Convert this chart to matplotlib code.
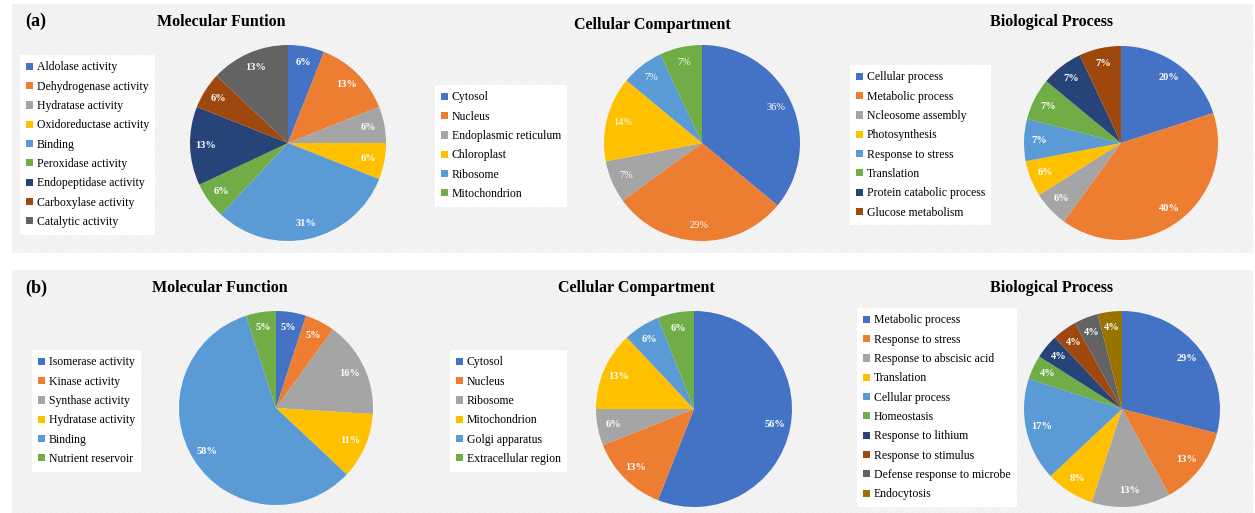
import matplotlib.pyplot as plt
from matplotlib.patches import Rectangle

plt.rcParams['font.family'] = ['Liberation Serif', 'DejaVu Serif']
plt.rcParams['hatch.linewidth'] = 0.6

# colours of the Office palette, in slice order
office = ['#4472C4', '#ED7D31', '#A5A5A5', '#FFC000', '#5B9BD5',
          '#70AD47', '#264478', '#9E480E', '#636363', '#997300']

# (a) molecular function
a_mf_labels = ['Aldolase activity', 'Dehydrogenase activity', 'Hydratase activity',
               'Oxidoreductase activity', 'Binding', 'Peroxidase activity',
               'Endopeptidase activity', 'Carboxylase activity', 'Catalytic activity']
a_mf_values = [6, 13, 6, 6, 31, 6, 13, 6, 13]

# (a) cellular compartment
a_cc_labels = ['Cytosol', 'Nucleus', 'Endoplasmic reticulum', 'Chloroplast',
               'Ribosome', 'Mitochondrion']
a_cc_values = [36, 29, 7, 14, 7, 7]

# (a) biological process
a_bp_labels = ['Cellular process', 'Metabolic process', 'Ncleosome assembly',
               'Photosynthesis', 'Response to stress', 'Translation',
               'Protein catabolic process', 'Glucose metabolism']
a_bp_values = [20, 40, 6, 6, 7, 7, 7, 7]

# (b) molecular function
b_mf_labels = ['Isomerase activity', 'Kinase activity', 'Synthase activity',
               'Hydratase activity', 'Binding', 'Nutrient reservoir']
b_mf_values = [5, 5, 16, 11, 58, 5]

# (b) cellular compartment
b_cc_labels = ['Cytosol', 'Nucleus', 'Ribosome', 'Mitochondrion',
               'Golgi apparatus', 'Extracellular region']
b_cc_values = [56, 13, 6, 13, 6, 6]

# (b) biological process
b_bp_labels = ['Metabolic process', 'Response to stress', 'Response to abscisic acid',
               'Translation', 'Cellular process', 'Homeostasis', 'Response to lithium',
               'Response to stimulus', 'Defense response to microbe', 'Endocytosis']
b_bp_values = [29, 13, 13, 8, 17, 4, 4, 4, 4, 4]

W, H = 1255, 513
fig = plt.figure(figsize=(W / 100, H / 100), dpi=100)
fig.patch.set_facecolor('white')


def px(x, y):
    return x / W, 1 - y / H


# grey panel behind each row
for y0, y1 in [(4, 253), (270, 513)]:
    fig.patches.append(Rectangle(px(12, y1), (W - 14) / W, (y1 - y0) / H,
                                 transform=fig.transFigure, facecolor='#f1f1f1',
                                 edgecolor='#f8f8f8', hatch='//////', linewidth=0,
                                 zorder=-1))


def pie_panel(values, labels, title, title_xy, centre, radius, legend_xy, bold=True):
    cx, cy = centre
    ax = fig.add_axes([(cx - radius) / W, 1 - (cy + radius) / H,
                       2 * radius / W, 2 * radius / H])
    wedges, _, autotexts = ax.pie(values, colors=office[:len(values)], startangle=90,
                                  counterclock=False, radius=1,
                                  autopct=lambda p: f'{p:.0f}%', pctdistance=0.84,
                                  wedgeprops=dict(linewidth=0))
    for t in autotexts:
        t.set_color('white')
        t.set_fontsize(7.5)
        t.set_fontweight('bold' if bold else 'normal')
    ax.set_xlim(-1, 1)
    ax.set_ylim(-1, 1)
    ax.set_aspect('equal')
    ax.axis('off')

    fig.text(*px(*title_xy), title, ha='center', va='center',
             fontsize=11.5, fontweight='bold')

    leg = fig.legend(wedges, labels, loc='upper left', bbox_to_anchor=px(*legend_xy),
                     fontsize=8.5, frameon=True, fancybox=False, framealpha=1,
                     facecolor='white', edgecolor='white', handlelength=0.55,
                     handleheight=0.55, handletextpad=0.3, labelspacing=0.62,
                     borderpad=0.55, borderaxespad=0)
    leg.get_frame().set_linewidth(0)


fig.text(*px(25, 21), '(a)', ha='left', va='center', fontsize=13, fontweight='bold')
fig.text(*px(25, 288), '(b)', ha='left', va='center', fontsize=13, fontweight='bold')

pie_panel(a_mf_values, a_mf_labels, 'Molecular Funtion', (221, 22), (288, 143), 98, (20, 55))
pie_panel(a_cc_values, a_cc_labels, 'Cellular Compartment', (652, 25), (702, 143), 98,
          (435, 85), bold=False)
pie_panel(a_bp_values, a_bp_labels, 'Biological Process', (1051, 22), (1121, 143), 97,
          (850, 65))
pie_panel(b_mf_values, b_mf_labels, 'Molecular Function', (220, 288), (276, 408), 97,
          (32, 350))
pie_panel(b_cc_values, b_cc_labels, 'Cellular Compartment', (636, 288), (694, 409), 98,
          (450, 350))
pie_panel(b_bp_values, b_bp_labels, 'Biological Process', (1052, 288), (1122, 409), 98,
          (857, 308))

fig.savefig('out.png', dpi=100)
